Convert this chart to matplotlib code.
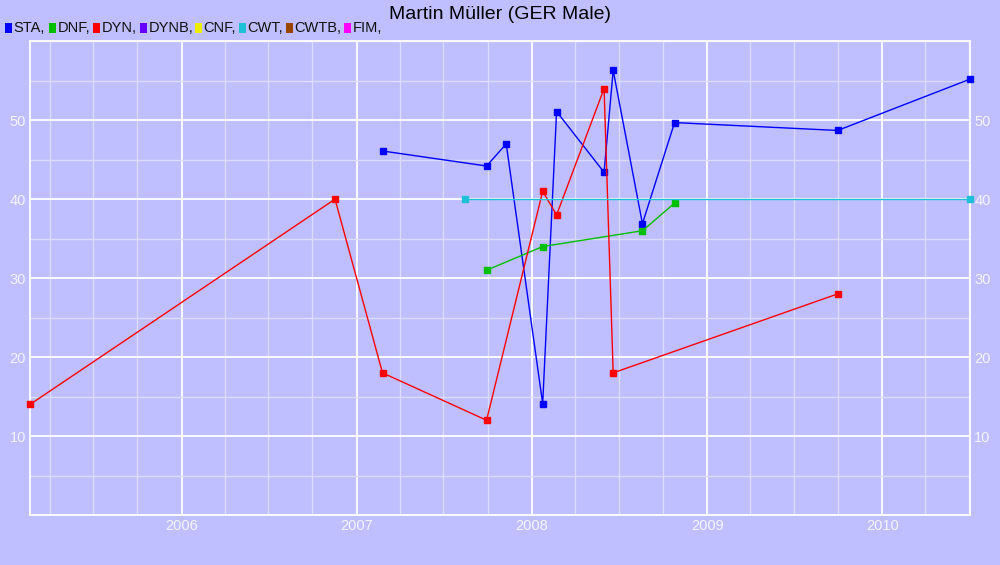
import datetime as dt

import matplotlib
matplotlib.use("Agg")
import matplotlib.pyplot as plt
import matplotlib.dates as mdates
from matplotlib.patches import Rectangle
from matplotlib.ticker import MultipleLocator

plt.rcParams["font.family"] = ["Liberation Sans", "DejaVu Sans"]

# disciplin verileri (tarih, deger)
sta_dates = ["2007-02-24", "2007-09-29", "2007-11-09", "2008-01-24", "2008-02-22",
             "2008-05-31", "2008-06-19", "2008-08-19", "2008-10-25", "2009-09-30",
             "2010-07-03"]
sta_vals = [46.1, 44.2, 47.0, 14.1, 51.1, 43.4, 56.3, 36.9, 49.7, 48.7, 55.2]

dnf_dates = ["2007-09-29", "2008-01-24", "2008-08-19", "2008-10-25"]
dnf_vals = [31.0, 34.0, 36.0, 39.5]

dyn_dates = ["2005-02-19", "2006-11-17", "2007-02-24", "2007-09-29", "2008-01-24",
             "2008-02-22", "2008-05-31", "2008-06-19", "2009-09-30"]
dyn_vals = [14.0, 40.0, 18.0, 12.0, 41.0, 38.0, 54.0, 18.0, 28.0]

cwt_dates = ["2007-08-15", "2010-07-03"]
cwt_vals = [40.0, 40.0]

legend_names = ["STA", "DNF", "DYN", "DYNB", "CNF", "CWT", "CWTB", "FIM"]
legend_cols = ["#0000ff", "#00c000", "#ff0000", "#6600ff", "#eeee00", "#1ec0d8", "#994400", "#ff00ff"]

BG = "#bfbfff"


def tarih(lst):
    return [dt.datetime.strptime(s, "%Y-%m-%d") for s in lst]


fig = plt.figure(figsize=(10, 5.65), dpi=100, facecolor=BG)
ax = fig.add_axes([0.03, 0.0885, 0.94, 0.8385], facecolor=BG)

seriler = [(sta_dates, sta_vals, legend_cols[0]),
           (dnf_dates, dnf_vals, legend_cols[1]),
           (dyn_dates, dyn_vals, legend_cols[2]),
           (cwt_dates, cwt_vals, legend_cols[5])]
for d, v, c in seriler:
    ax.plot(tarih(d), v, color=c, lw=1.0, marker="s", ms=4.2, mec=c, mfc=c, zorder=3,
            clip_on=False)

ax.set_xlim(tarih(["2005-02-19"])[0], tarih(["2010-07-03"])[0])
ax.set_ylim(0, 60)

ax.xaxis.set_major_locator(mdates.YearLocator())
ax.xaxis.set_major_formatter(mdates.DateFormatter("%Y"))
ax.xaxis.set_minor_locator(mdates.MonthLocator(bymonth=[1, 4, 7, 10]))
ax.yaxis.set_major_locator(MultipleLocator(10))
ax.yaxis.set_minor_locator(MultipleLocator(5))
ax.set_yticks([10, 20, 30, 40, 50])

ax.grid(which="major", color="white", lw=1.3, zorder=0)
ax.grid(which="minor", color="#dcdcf8", lw=1.0, zorder=0)
ax.tick_params(which="both", length=0, colors="#f4f4ff", labelsize=10.5)
ax.tick_params(axis="y", labelright=True, pad=3)
ax.tick_params(axis="x", pad=3)
for s in ax.spines.values():
    s.set_color("white")
    s.set_linewidth(1.3)

fig.text(0.5, 0.975, "Martin Müller (GER Male)", ha="center", va="center",
         fontsize=14, color="black")

# ust soldaki renk kutulari
xs = [0.005, 0.049, 0.093, 0.140, 0.195, 0.239, 0.286, 0.344]
for x, n, c in zip(xs, legend_names, legend_cols):
    fig.patches.append(Rectangle((x, 0.9416), 0.007, 0.0177, transform=fig.transFigure,
                                 facecolor=c, edgecolor="none"))
    fig.text(x + 0.0085, 0.9504, n + ",", ha="left", va="center", fontsize=10.5,
             color="#111111")

fig.savefig("out.png", dpi=100, facecolor=BG)
